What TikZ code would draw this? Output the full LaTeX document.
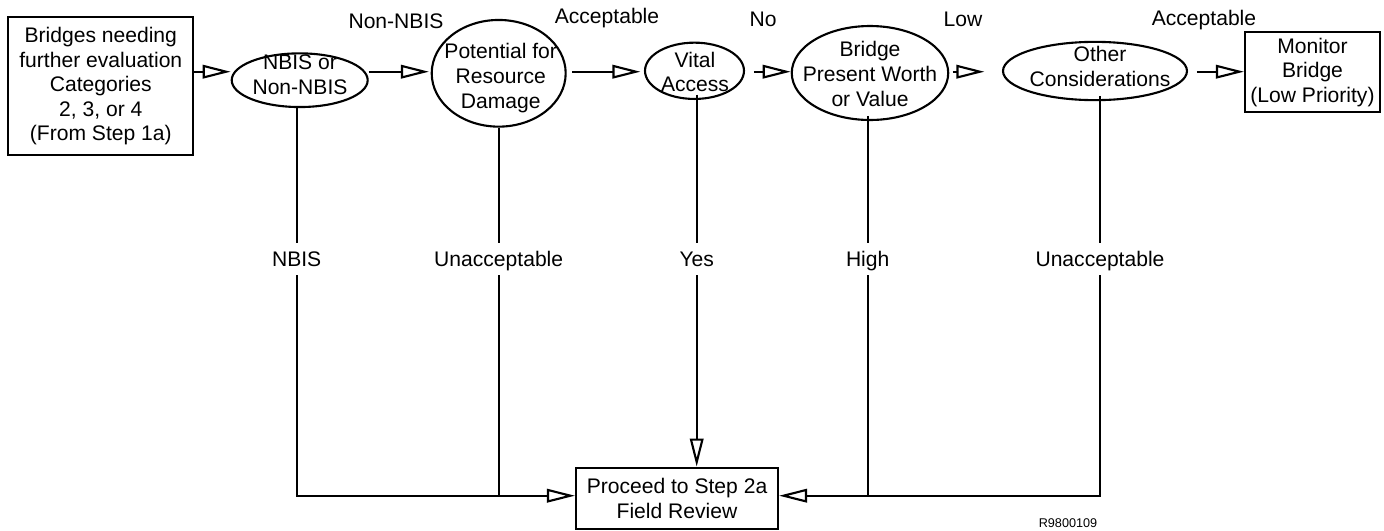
\documentclass[tikz,border=0pt]{standalone}
\usepackage{fontspec}
\setmainfont{Liberation Sans}
\usetikzlibrary{arrows.meta,shapes.geometric}
\begin{document}
\begin{tikzpicture}[x=0.02cm,y=-0.02cm,
    font=\fontsize{12}{14}\selectfont,
    every path/.style={line width=1.2pt},
    stepbox/.style = {rectangle,draw,line width=1.2pt,align=center,inner sep=0pt},
    decide/.style  = {ellipse,draw,line width=1.2pt,inner sep=0pt},
    txt/.style     = {align=center,inner sep=0pt},
    flag/.style    = {inner sep=0pt,text height=8.6pt,text depth=0pt},
    cut/.style     = {flag,fill=white,minimum height=0.6cm},
    arr/.style     = {-{Triangle[open,length=0.56cm,width=0.27cm]}}]
\useasboundingbox (0,0) rectangle (1384,531);
% boxes
\node[stepbox,minimum width=3.7cm,minimum height=2.754cm] (start) at (100.8,86.2)
    {Bridges needing\\further evaluation\\Categories\\2, 3, or 4\\(From Step 1a)};
\node[stepbox,minimum width=2.7cm,minimum height=1.6cm] (monitor) at (1312.5,72.3)
    {Monitor\\Bridge\\(Low Priority)};
\node[stepbox,minimum width=4.04cm,minimum height=1.226cm] (proceed) at (677,498.3)
    {Proceed to Step 2a\\Field Review};
% decisions
\node[decide,minimum width=2.72cm,minimum height=1.074cm] (nbis)  at (299.7,80.2) {};
\node[decide,minimum width=2.68cm,minimum height=2.134cm] (pot)   at (498.7,73.3) {};
\node[decide,minimum width=1.98cm,minimum height=1.126cm] (vital) at (694.5,70.8) {};
\node[decide,minimum width=3.13cm,minimum height=1.88cm]  (worth) at (870,73) {};
\node[decide,minimum width=3.68cm,minimum height=1.166cm] (other) at (1095,71) {};
\node[txt] (nbis-t)  at (300,75)    {NBIS or\\Non-NBIS};
\node[txt] (pot-t)   at (500.7,78)  {Potential for\\Resource\\Damage};
\node[txt] (vital-t) at (695,72)    {Vital\\Access};
\node[txt] (worth-t) at (870,74)    {Bridge\\Present Worth\\or Value};
\node[txt] (other-t) at (1100,66.7) {Other\\Considerations};
% labels above the flow
\foreach \n/\x/\y/\t in {t1/396/20.7/Non-NBIS, t2/607/15.7/Acceptable, t3/763/19.3/No,
                          t4/963/19/Low, t5/1204/18.3/Acceptable}
    \node[flag] (\n) at (\x,\y) {\t};
% labels on the drops
\foreach \n/\x/\t in {l1/296.7/NBIS, l2/498.7/Unacceptable, l3/696.7/Yes,
                      l4/867.7/High, l5/1100/Unacceptable}
    \node[cut] (\n) at (\x,259) {\t};
\coordinate (row) at (0,71.7);
\coordinate (base) at (0,495.7);
% main flow
\draw[arr] (start.east |- row) -- (nbis.west |- row);
\draw[arr] (nbis.east |- row) -- ([xshift=-1]pot.west |- row);
\draw[arr] ([xshift=3]pot.east |- row) -- ([xshift=-2]vital.west |- row);
\draw[arr] ([xshift=5]vital.east |- row) -- (worth.west |- row);
\draw[arr] ([xshift=2]worth.east |- row) -- ([xshift=-10]other.west |- row);
\draw[arr] ([xshift=5]other.east |- row) -- (monitor.west |- row);
% drops
\draw (l1 |- nbis.south) -- (l1.north);
\draw (l2 |- pot.south) -- (l2.north);
\draw ([yshift=3]l3 |- vital.south) -- (l3.north);
\draw ([yshift=3]l4 |- worth.south) -- (l4.north);
\draw ([yshift=3]l5 |- other.south) -- (l5.north);
\draw[arr] (l1.south) |- (proceed.west |- base);
\draw (l2.south) -- (l2 |- base);
\draw[arr] (l3.south) -- (proceed.north -| l3);
\draw (l4.south) -- (l4 |- base);
\draw[arr] (l5.south) |- (proceed.east |- base);
\node[font=\fontsize{7.2}{8}\selectfont] (ref) at (1068,522.7) {R9800109};
\end{tikzpicture}
\end{document}
